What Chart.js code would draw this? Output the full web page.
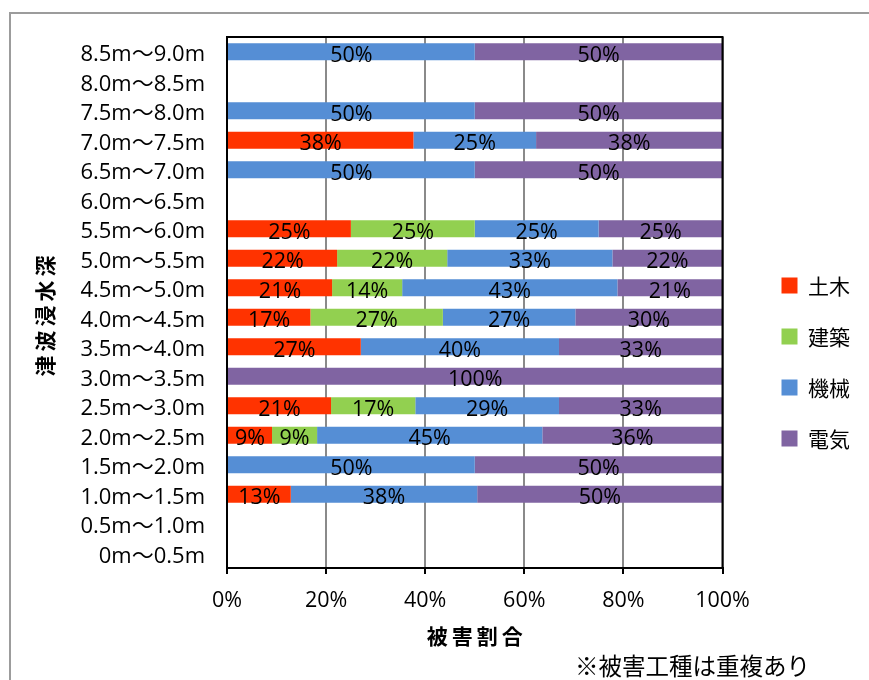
<!DOCTYPE html>
<html>
<head>
<meta charset="utf-8">
<script src="https://cdn.jsdelivr.net/npm/chart.js@4.4.1/dist/chart.umd.min.js"></script>
<style>
  html, body { margin: 0; padding: 0; background: #fff; overflow: hidden; }
  #frame { position: absolute; left: 9px; top: 12px; width: 900px; height: 720px;
           border-left: 2px solid #9c9c9c; border-top: 2px solid #9c9c9c; }
  #wrap { position: absolute; left: 0; top: 0; width: 869px; height: 680px; }
  #note { position: absolute; left: 575px; top: 654px; font: 23.5px "Noto Sans CJK JP", sans-serif;
          color: #000; white-space: nowrap; line-height: 1; }
</style>
</head>
<body>
<div id="frame"></div>
<div id="wrap"><canvas id="c" width="869" height="680"></canvas></div>
<div id="note">※被害工種は重複あり</div>
<script>
// Tsunami inundation depth bands, shallowest first (drawn bottom-up)
const depthBands = [
  '0m～0.5m', '0.5m～1.0m', '1.0m～1.5m', '1.5m～2.0m', '2.0m～2.5m', '2.5m～3.0m',
  '3.0m～3.5m', '3.5m～4.0m', '4.0m～4.5m', '4.5m～5.0m', '5.0m～5.5m', '5.5m～6.0m',
  '6.0m～6.5m', '6.5m～7.0m', '7.0m～7.5m', '7.5m～8.0m', '8.0m～8.5m', '8.5m～9.0m'
];

// Share of damage by work type (%) per depth band
const civil      = [0, 0, 13,  0,  9, 21,   0, 27, 17, 21, 22, 25, 0,  0, 38,  0, 0,  0];
const building   = [0, 0,  0,  0,  9, 17,   0,  0, 27, 14, 22, 25, 0,  0,  0,  0, 0,  0];
const machinery  = [0, 0, 38, 50, 45, 29,   0, 40, 27, 43, 33, 25, 0, 50, 25, 50, 0, 50];
const electrical = [0, 0, 50, 50, 36, 33, 100, 33, 30, 21, 22, 25, 0, 50, 38, 50, 0, 50];

const seriesNames = ['土木', '建築', '機械', '電気'];
const seriesColors = ['#FF3300', '#92D050', '#558ED5', '#8064A2'];
const xTicks = [0, 20, 40, 60, 80, 100];

const FAMILY = '"Open Sans", "Noto Sans CJK JP", sans-serif';
const CJK = '"Noto Sans CJK JP", sans-serif';

// 100% stacked: each band is scaled by its own total
const seriesValues = [civil, building, machinery, electrical];
const bandTotals = depthBands.map((_, i) => seriesValues.reduce((s, arr) => s + arr[i], 0));
const toShare = arr => arr.map((v, i) => (v && bandTotals[i] ? v / bandTotals[i] * 100 : null));

const datasets = seriesValues.map((arr, k) => ({
  label: seriesNames[k],
  data: toShare(arr),
  raw: arr,
  backgroundColor: seriesColors[k],
  borderWidth: 0,
  barPercentage: 0.58,
  categoryPercentage: 1
}));

// plot frame, value labels and spaced axis titles
const decorations = {
  id: 'decorations',
  afterDatasetsDraw(chart) {
    const {ctx, chartArea: a} = chart;
    ctx.save();
    ctx.strokeStyle = '#000';
    ctx.lineWidth = 2;
    ctx.strokeRect(a.left, a.top, a.right - a.left, a.bottom - a.top);

    ctx.font = '21.5px ' + FAMILY;
    ctx.fillStyle = '#000';
    ctx.textAlign = 'center';
    ctx.textBaseline = 'middle';
    chart.data.datasets.forEach((ds, i) => {
      chart.getDatasetMeta(i).data.forEach((bar, j) => {
        const v = ds.raw[j];
        if (!v) return;
        ctx.fillText(v + '%', (bar.x + bar.base) / 2, bar.y + 4);
      });
    });
    ctx.restore();
  },
  afterDraw(chart) {
    const {ctx, chartArea: a} = chart;
    ctx.save();
    ctx.font = 'bold 21px ' + CJK;
    ctx.fillStyle = '#000';
    ctx.textAlign = 'center';
    ctx.textBaseline = 'middle';
    ctx.letterSpacing = '4px';
    ctx.fillText('被害割合', (a.left + a.right) / 2 + 2, 636);
    ctx.translate(45, 316);
    ctx.rotate(-Math.PI / 2);
    ctx.fillText('津波浸水深', 2, 0);
    ctx.restore();
  }
};

new Chart(document.getElementById('c'), {
  type: 'bar',
  data: { labels: depthBands, datasets },
  options: {
    indexAxis: 'y',
    responsive: false,
    animation: false,
    layout: { padding: { left: 20, top: 37, right: 9, bottom: 0 } },
    plugins: {
      tooltip: { enabled: false },
      legend: {
        position: 'right',
        align: 'center',
        title: { display: true, text: ' ', font: { size: 1 }, padding: { top: 6, bottom: 0 } },
        labels: { boxWidth: 16, boxHeight: 16, padding: 30, color: '#000', font: { size: 21, family: CJK } }
      }
    },
    scales: {
      x: {
        stacked: true,
        min: 0,
        max: 100,
        afterBuildTicks: s => { s.ticks = xTicks.map(v => ({ value: v })); },
        ticks: { callback: v => v + '%', color: '#000', padding: 14, font: { size: 21.5, family: FAMILY } },
        grid: { color: '#8a8a8a', lineWidth: 2, tickColor: '#000', tickLength: 6, tickWidth: 2 },
        border: { display: true, color: '#000', width: 2 },
        afterFit: s => { s.height = 112; }
      },
      y: {
        stacked: true,
        reverse: true,
        grid: { display: false, drawTicks: false },
        border: { display: true, color: '#000', width: 2 },
        ticks: { color: '#000', padding: 22, labelOffset: 3, autoSkip: false, font: { size: 22, family: FAMILY } },
        afterFit: s => { s.width = 207; }
      },
      gap: {
        type: 'category',
        axis: 'y',
        position: 'right',
        grid: { display: false },
        border: { display: false },
        ticks: { display: false },
        afterFit: s => { s.width = 29; }
      }
    }
  },
  plugins: [decorations]
});
</script>
</body>
</html>
